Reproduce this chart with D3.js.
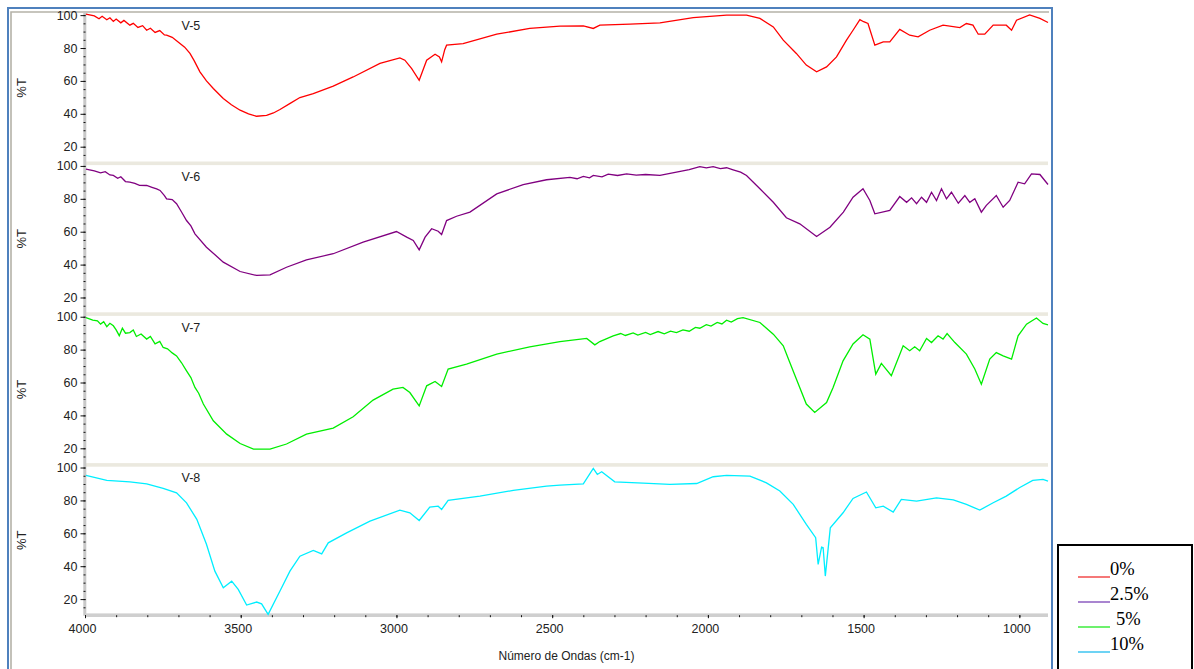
<!DOCTYPE html>
<html>
<head>
<meta charset="utf-8">
<script src="https://cdn.jsdelivr.net/npm/d3@7"></script>
<style>
  body { margin: 0; background: #fff; }
  svg { display: block; }
  .tk text { font-family: "Liberation Sans", Arial, sans-serif; font-size: 12.5px; fill: #222; }
  .tk line { stroke: #111; }
</style>
</head>
<body>
<script>
// spectra: [wavenumber, %T]
var v5 = [[3997,100.6],[3970,99.5],[3955,97.8],[3945,99.3],[3930,97.2],[3920,98.4],[3909,96.2],[3900,97.6],[3885,95.3],[3875,96.8],[3856,93.9],[3845,95.0],[3830,92.5],[3815,93.6],[3802,90.8],[3790,92.0],[3775,89.5],[3760,90.6],[3745,88.0],[3738,87.8],[3720,86.5],[3695,82.7],[3680,80.5],[3663,76.7],[3650,72.5],[3631,65.5],[3610,60.0],[3588,55.4],[3556,49.3],[3530,45.5],[3502,42.2],[3475,40.0],[3449,38.5],[3417,39.0],[3395,40.5],[3374,42.6],[3340,46.5],[3310,49.9],[3267,52.3],[3203,56.8],[3139,62.4],[3053,70.6],[2989,74.0],[2973,72.6],[2951,67.5],[2927,60.4],[2915,66.5],[2903,72.6],[2876,76.2],[2862,74.5],[2855,71.6],[2845,79.0],[2839,81.7],[2786,82.7],[2678,88.4],[2572,91.9],[2475,93.3],[2400,93.5],[2368,91.9],[2347,93.9],[2250,94.5],[2154,95.3],[2047,98.5],[1940,100],[1876,100],[1833,98],[1790,92.8],[1758,84.8],[1716,76.7],[1684,69.6],[1651,65.5],[1619,68.5],[1587,74.6],[1555,84.8],[1534,90.8],[1512,97.3],[1500,96.0],[1486,94.9],[1464,81.7],[1437,83.7],[1416,83.7],[1384,91.3],[1352,87.8],[1325,86.8],[1288,90.8],[1245,93.9],[1191,92.4],[1170,94.9],[1149,93.9],[1132,88.4],[1111,88.4],[1084,93.9],[1042,93.9],[1025,90.8],[1009,96.9],[967,100.1],[934,98],[908,95.5]];

var v6 = [[3997,98.0],[3970,97.0],[3950,95.8],[3935,96.5],[3920,94.5],[3909,94.2],[3895,92.5],[3885,93.4],[3870,90.5],[3856,90.1],[3840,89.4],[3825,88.2],[3802,88.1],[3785,87.0],[3770,86.0],[3759,85.1],[3745,82.0],[3738,80.0],[3720,79.5],[3706,77.0],[3690,72.0],[3674,66.8],[3660,63.5],[3647,58.7],[3610,50.6],[3556,41.5],[3502,35.8],[3449,33.4],[3406,33.8],[3353,38.4],[3289,42.9],[3203,46.6],[3107,53.6],[3000,60.1],[2967,56.7],[2946,54.7],[2927,49.0],[2908,56.7],[2887,61.8],[2866,60.3],[2855,58.3],[2839,66.8],[2807,69.4],[2764,71.9],[2678,83.0],[2593,88.7],[2518,91.6],[2443,93.0],[2420,92.2],[2400,93.6],[2380,92.8],[2368,94.2],[2340,93.4],[2320,95.0],[2290,94.2],[2261,95.2],[2230,94.4],[2200,94.8],[2154,94.2],[2101,96.2],[2060,97.8],[2026,99.6],[2005,98.8],[1983,99.6],[1960,98.4],[1940,98.9],[1919,97.6],[1895,96.2],[1876,94.2],[1833,86.1],[1790,77.9],[1748,68.5],[1705,64.8],[1651,57.1],[1608,62.7],[1565,71.9],[1534,81.0],[1502,86.1],[1480,79.0],[1464,70.9],[1416,72.9],[1384,81.4],[1362,77.9],[1346,80.6],[1330,77.0],[1314,81.0],[1298,77.9],[1282,84.0],[1266,79.0],[1250,86.1],[1234,80.0],[1218,84.0],[1196,77.3],[1175,82.0],[1159,77.9],[1143,80.0],[1122,71.9],[1106,76.0],[1074,82.0],[1052,74.9],[1031,79.0],[1004,90.1],[983,89.1],[961,95.2],[934,94.8],[908,88.7]];

var v7 = [[3997,99.5],[3975,98.0],[3960,97.5],[3950,95.5],[3940,97.0],[3930,94.0],[3920,96.0],[3909,94.5],[3900,92.0],[3890,88.5],[3880,93.0],[3870,90.0],[3856,90.4],[3845,92.0],[3835,88.0],[3820,89.5],[3802,86.4],[3790,88.0],[3775,83.5],[3760,85.0],[3749,81.3],[3735,80.5],[3720,78.0],[3706,76.2],[3690,72.0],[3674,67.1],[3660,63.0],[3647,57.0],[3635,53.5],[3620,46.9],[3588,36.7],[3545,28.6],[3502,22.9],[3459,19.5],[3406,19.5],[3353,22.6],[3289,28.6],[3203,32.3],[3139,39.2],[3075,49.3],[3011,56.0],[2979,57.0],[2957,53.9],[2927,45.8],[2903,58.0],[2876,60.6],[2855,57.6],[2834,68.2],[2775,71.2],[2678,77.3],[2572,81.7],[2475,84.8],[2389,86.8],[2363,82.9],[2347,84.9],[2304,88.4],[2280,89.8],[2265,88.6],[2240,90.2],[2225,88.8],[2200,90.5],[2185,89.2],[2160,91.0],[2140,89.6],[2120,91.2],[2101,90.4],[2080,92.0],[2060,91.2],[2040,93.5],[2026,93.0],[2005,95.2],[1990,94.3],[1970,96.5],[1955,95.6],[1940,97.9],[1925,96.8],[1905,98.8],[1887,99.5],[1833,96.5],[1790,89.4],[1758,82.3],[1737,72.2],[1716,62.1],[1684,46.9],[1657,41.8],[1619,47.8],[1598,57.0],[1566,73.2],[1534,83.4],[1502,89.0],[1480,86.4],[1461,65.1],[1443,71.6],[1411,64.1],[1373,82.3],[1352,79.3],[1336,81.7],[1320,79.3],[1298,86.8],[1282,84.3],[1261,88.4],[1245,86.4],[1232,89.8],[1207,84.3],[1170,77.3],[1143,68.2],[1122,59.0],[1095,74.2],[1074,78.2],[1052,76.2],[1025,74.2],[1004,88.4],[977,95.5],[945,99.2],[924,95.9],[908,95.1]];

var v8 = [[3997,95.2],[3930,92.2],[3856,91.3],[3802,90.1],[3749,87.3],[3706,84.6],[3674,78.5],[3641,68.5],[3610,53.3],[3583,37.0],[3556,26.9],[3529,30.9],[3508,25.9],[3481,16.4],[3449,18.2],[3433,17.1],[3412,10.7],[3374,24.9],[3342,37.0],[3310,46.1],[3267,49.6],[3240,47.5],[3219,54.2],[3160,60.3],[3085,67.4],[2989,74.1],[2957,72.5],[2927,67.8],[2893,75.9],[2866,76.5],[2855,74.5],[2834,80.0],[2732,82.6],[2625,86.1],[2518,88.7],[2475,89.3],[2400,90.1],[2368,99.5],[2355,95.8],[2341,97.4],[2299,91.3],[2208,90.5],[2122,89.7],[2036,90.3],[1983,94.4],[1940,95.2],[1865,94.8],[1812,90.7],[1769,85.7],[1726,77.6],[1684,65.4],[1654,57.3],[1646,41.1],[1635,51.6],[1630,51.2],[1623,34.0],[1607,63.3],[1566,72.5],[1534,81.2],[1491,85.1],[1461,75.5],[1437,76.5],[1405,72.9],[1379,80.6],[1330,79.6],[1266,81.6],[1212,80.4],[1170,77.6],[1127,74.1],[1084,78.6],[1042,82.6],[1000,87.7],[957,92.2],[924,92.8],[908,91.7]];

var series = [v5, v6, v7, v8];
var panelNames = ["V-5", "V-6", "V-7", "V-8"];
var legendNames = ["0%", "2.5%", "5%", "10%"];
var lineColors = ["#ff0000", "#800080", "#00ee00", "#00eeff"];
var legendColors = ["#f24b4b", "#8c5cc0", "#3cec3c", "#3cc4f0"];
var yTicks = [20, 40, 60, 80, 100];
var xTicks = [4000, 3500, 3000, 2500, 2000, 1500, 1000];

var W = 1194, H = 669;
var left = 85, right = 1048, top0 = 12.5, panelH = 150.8;

var svg = d3.select("body").append("svg")
    .attr("width", W)
    .attr("height", H);

// frame (blue outer, grey inner)
svg.append("rect").attr("x", 8).attr("y", 8).attr("width", 1044).attr("height", 700)
    .style("fill", "none").style("stroke", "#4f81bd").style("stroke-width", 2);
svg.append("path").attr("d", "M11,700V12H1049")
    .style("fill", "none").style("stroke", "#b5b2a8").style("stroke-width", 1.6);

var x = d3.scaleLinear().domain([4000, 908]).range([left, right]);

// beige separators between panels
for (var i = 1; i < 4; i++) {
  svg.append("rect").attr("x", left).attr("y", top0 + i * panelH - 1.8)
      .attr("width", right - left).attr("height", 3.6)
      .style("fill", "#ebe9df");
}

// y axis grey band
svg.append("rect").attr("x", 83.3).attr("y", top0).attr("width", 3).attr("height", 4 * panelH)
    .style("fill", "#c8c8c8");
// x axis grey band
svg.append("rect").attr("x", left).attr("y", top0 + 4 * panelH - 2.3).attr("width", right - left).attr("height", 3.6)
    .style("fill", "#cfcfcf");

series.forEach(function(data, i) {
  var pTop = top0 + i * panelH;
  var y = d3.scaleLinear().domain([9.9, 101.6]).range([pTop + panelH, pTop]);

  // minor ticks
  var minor = svg.append("g").attr("class", "tk")
      .attr("transform", "translate(" + (left + 0.5) + ",0)")
      .call(d3.axisLeft(y).tickValues(d3.range(15, 101, 5)).tickSize(2).tickFormat(""));
  minor.select(".domain").remove();

  var ax = svg.append("g").attr("class", "tk")
      .attr("transform", "translate(" + (left + 0.5) + ",0)")
      .call(d3.axisLeft(y).tickValues(yTicks).tickSize(5).tickPadding(3));
  ax.select(".domain").remove();

  svg.append("text")
      .attr("transform", "translate(26," + (pTop + panelH / 2) + ") rotate(-90)")
      .attr("text-anchor", "middle")
      .style("font-family", "Liberation Sans, Arial, sans-serif")
      .style("font-size", "13px")
      .style("fill", "#222")
      .text("%T");

  svg.append("text")
      .attr("x", x(3690))
      .attr("y", pTop + 17.5)
      .style("font-family", "Liberation Sans, Arial, sans-serif")
      .style("font-size", "12.5px")
      .style("fill", "#222")
      .text(panelNames[i]);

  var line = d3.line()
      .x(function(d) { return x(d[0]); })
      .y(function(d) { return y(d[1]); });

  svg.append("path")
      .datum(data)
      .style("fill", "none")
      .style("stroke", lineColors[i])
      .style("stroke-width", 1.3)
      .attr("d", line);
});

// x axis
var xBase = top0 + 4 * panelH - 0.5;
var xm = svg.append("g").attr("class", "tk")
    .attr("transform", "translate(0," + xBase + ")")
    .call(d3.axisBottom(x).tickValues(d3.range(1000, 4001, 100)).tickSize(2).tickFormat(""));
xm.select(".domain").remove();
var xa = svg.append("g").attr("class", "tk")
    .attr("transform", "translate(0," + xBase + ")")
    .call(d3.axisBottom(x).tickValues(xTicks).tickSize(3).tickPadding(6).tickFormat(d3.format("d")));
xa.select(".domain").remove();
xa.selectAll("text").attr("dx", -3);

svg.append("text")
    .attr("x", (left + right) / 2)
    .attr("y", 660)
    .attr("text-anchor", "middle")
    .style("font-family", "Liberation Sans, Arial, sans-serif")
    .style("font-size", "12px")
    .style("fill", "#222")
    .text("Número de Ondas (cm-1)");

// legend
var lg = svg.append("g");
lg.append("rect").attr("x", 1058).attr("y", 545).attr("width", 134).attr("height", 140)
    .style("fill", "#fff").style("stroke", "#000").style("stroke-width", 2);
legendNames.forEach(function(name, i) {
  var ly = 577 + i * 25;
  lg.append("line").attr("x1", 1078).attr("x2", 1110).attr("y1", ly).attr("y2", ly)
      .style("stroke", legendColors[i]).style("stroke-width", 1.5);
  lg.append("text").attr("x", name == "5%" ? 1116 : 1110).attr("y", ly - 2)
      .style("font-family", "Liberation Serif, Times New Roman, serif")
      .style("font-size", "18.5px")
      .style("fill", "#000")
      .text(name);
});
</script>
</body>
</html>
